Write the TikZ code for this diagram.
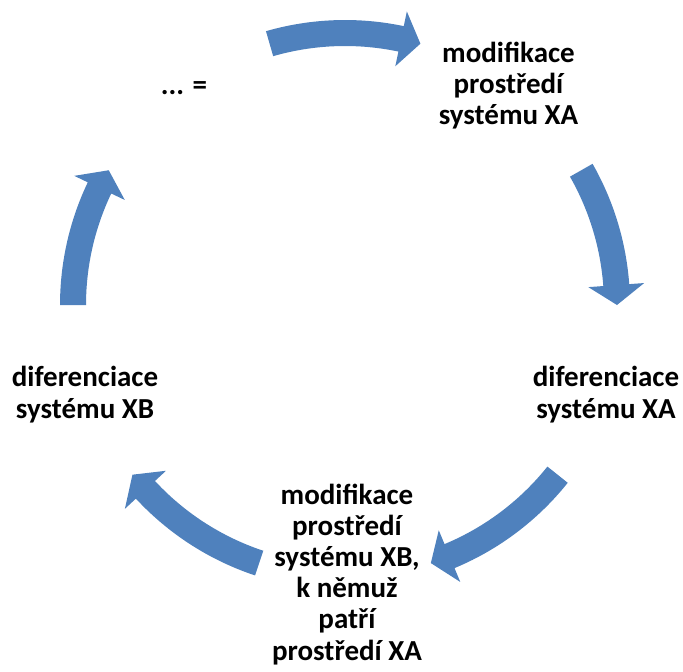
\documentclass[tikz,border=0pt]{standalone}
\usepackage{fontspec}
\setmainfont{Carlito}
\definecolor{accentblue}{RGB}{79,129,189}
\tikzset{
  lbl/.style={align=center, inner sep=0pt, anchor=base, font=\fontsize{29}{31.2}\selectfont\bfseries},
  arrowfill/.style={fill=accentblue, draw=none}
}
% #1 = start angle (clockwise from top), #2 = tip angle
\newcommand\cycarrow[2]{%
  \pgfmathsetmacro\aone{#1-90}%
  \pgfmathsetmacro\atip{#2-90}%
  \pgfmathsetmacro\ahead{#2-90-4.2}%
  \fill[arrowfill] plot[domain=\aone:\ahead, samples=30] (\x:285)
     -- (\ahead:300) -- (\atip:272) -- (\ahead:244)
     -- plot[domain=\ahead:\aone, samples=30] (\x:259) -- cycle;
}
\begin{document}
\begin{tikzpicture}[x=1pt, y=-1pt]
\useasboundingbox (0,0) rectangle (683,672);
\begin{scope}[shift={(345,305)}]
\cycarrow{-16.1}{16.1}
\cycarrow{60.3}{90}
\cycarrow{128.6}{161.6}
\cycarrow{198.4}{231.4}
\cycarrow{270}{299.7}
\end{scope}
\node[lbl] (n0) at (184,94) {... =};
\node[lbl] (n1) at (508.5,124.5) {modifikace\\prostředí\\systému XA};
\node[lbl] (n2) at (606,418) {diferenciace\\systému XA};
\node[lbl] (n3) at (347,660) {modifikace\\prostředí\\systému XB,\\k němuž\\patří\\prostředí XA};
\node[lbl] (n4) at (85,418) {diferenciace\\systému XB};
\end{tikzpicture}
\end{document}
